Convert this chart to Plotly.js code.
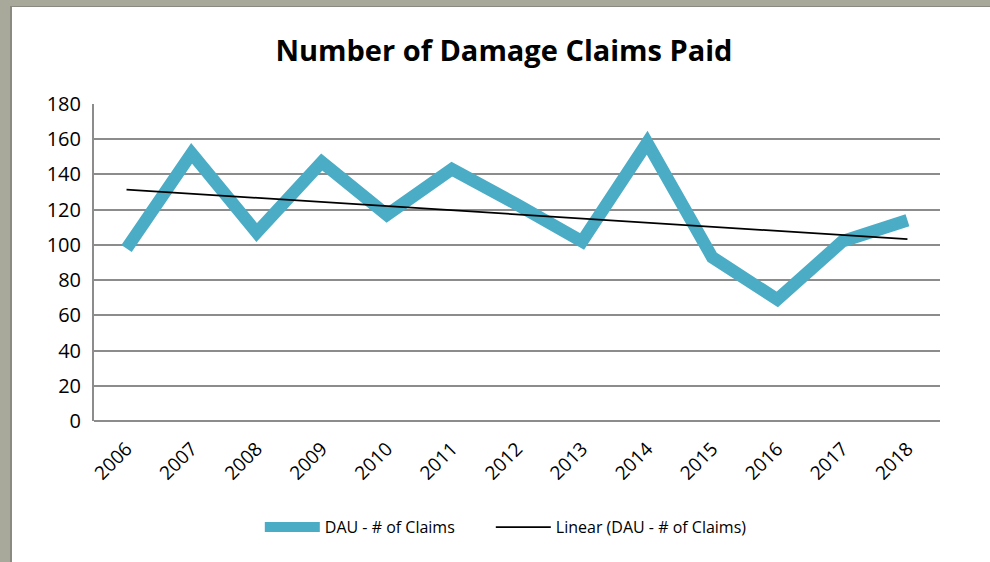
<!DOCTYPE html>
<html>
<head>
<meta charset="utf-8">
<script src="https://cdn.plot.ly/plotly-3.0.1.min.js"></script>
<style>
  html, body { margin: 0; padding: 0; width: 990px; height: 562px; overflow: hidden; background: #a8a89b; }
  #frame { position: absolute; left: 10px; top: 6px; width: 980px; height: 556px; background: #ffffff; border-left: 2px solid #8a8a80; border-top: 1px solid #8a8a80; }
  #chart { position: absolute; left: 0; top: 0; width: 978px; height: 555px; }
</style>
</head>
<body>
<div id="frame"><div id="chart"></div></div>
<script>
const years = ["2006","2007","2008","2009","2010","2011","2012","2013","2014","2015","2016","2017","2018"];
const claims = [98, 152, 107, 147, 117, 143, 123, 102, 158, 93, 69, 102, 114];
const seriesName = "DAU - # of Claims";
const trendName = "Linear (DAU - # of Claims)";
const yTicks = [0, 20, 40, 60, 80, 100, 120, 140, 160, 180];

// least-squares linear trendline over category index
const n = claims.length;
const xs = claims.map((_, i) => i + 1);
const mx = xs.reduce((a, b) => a + b, 0) / n;
const my = claims.reduce((a, b) => a + b, 0) / n;
let sxy = 0, sxx = 0;
for (let i = 0; i < n; i++) { sxy += (xs[i] - mx) * (claims[i] - my); sxx += (xs[i] - mx) ** 2; }
const slope = sxy / sxx;
const intercept = my - slope * mx;
const trend = xs.map(x => intercept + slope * x);

const font = "Open Sans, Liberation Sans, sans-serif";

const data = [
  { x: years, y: claims, type: "scatter", mode: "lines", name: seriesName,
    line: { color: "#4bacc6", width: 12.5 }, legendwidth: 161 },
  { x: years, y: trend, type: "scatter", mode: "lines", name: trendName,
    line: { color: "#000000", width: 1.8 }, legendwidth: 260 }
];

const layout = {
  width: 978, height: 555,
  margin: { l: 82, r: 50, t: 97, b: 141 },
  paper_bgcolor: "#ffffff", plot_bgcolor: "#ffffff",
  font: { family: font, color: "#000000" },
  title: { text: "<b>Number of Damage Claims Paid</b>", x: 0.503, xanchor: "center",
           y: 0.921, yanchor: "middle", font: { family: font, size: 29, color: "#000000" } },
  xaxis: { type: "category", range: [-0.5, 12.5], tickangle: -45,
           tickfont: { family: font, size: 19, color: "#000000" },
           showgrid: false, zeroline: false, showline: false, ticks: "", ticklabelstandoff: 12 },
  yaxis: { range: [0, 180], tickvals: yTicks, ticktext: yTicks.map(String),
           tickfont: { family: font, size: 20, color: "#000000" },
           showgrid: true, gridcolor: "#8c8c8c", gridwidth: 2,
           zeroline: true, zerolinecolor: "#8c8c8c", zerolinewidth: 2,
           showline: true, linecolor: "#8c8c8c", linewidth: 2, ticks: "", ticklabelstandoff: 7 },
  showlegend: true,
  legend: { orientation: "h", x: 0.196, xanchor: "left", y: -0.335, yanchor: "middle",
            font: { family: font, size: 16, color: "#000000" }, itemwidth: 55,
            bgcolor: "rgba(0,0,0,0)" }
};

Plotly.newPlot("chart", data, layout, { displayModeBar: false, staticPlot: true });
</script>
</body>
</html>
